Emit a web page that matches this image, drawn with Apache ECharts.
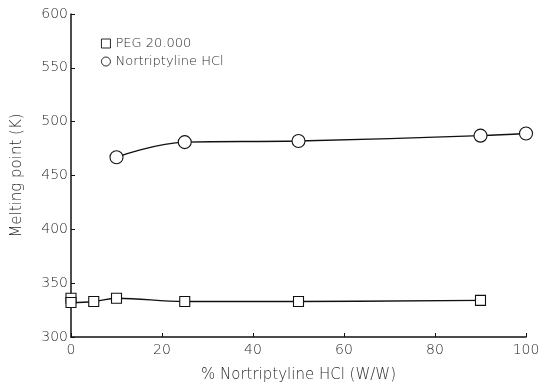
<!DOCTYPE html>
<html>
<head>
<meta charset="utf-8">
<script src="https://cdn.jsdelivr.net/npm/echarts@6/dist/echarts.min.js"></script>
<style>
  html, body { margin: 0; padding: 0; background: #fff; }
  #main { width: 549px; height: 382px; }
</style>
</head>
<body>
<div id="main"></div>
<script>
// 数据
var pegX = [0, 0, 5, 10, 25, 50, 90]
var pegY = [336, 332, 333, 336, 333, 333, 334]
var norX = [10, 25, 50, 90, 100]
var norY = [467, 481, 482, 487, 489]
var xTicks = [0, 20, 40, 60, 80, 100]
var yTicks = [300, 350, 400, 450, 500, 550, 600]

function pairs(xs, ys) {
  return xs.map(function (x, i) { return [x, ys[i]] })
}

var chart = echarts.init(document.getElementById('main'))
var font = 'DejaVu Sans'
var txt = '#2a2a2a'
var option = {
  animation: false,
  backgroundColor: '#fff',
  grid: { left: 71, right: 23, top: 14, bottom: 45, outerBoundsMode: 'none' },
  legend: {
    orient: 'vertical',
    left: 96,
    top: 32,
    itemGap: 5,
    itemWidth: 9,
    itemHeight: 9,
    itemStyle: { borderWidth: 0.9 },
    textStyle: { fontFamily: font, fontWeight: 200, fontSize: 13, color: txt },
    data: [
      { name: 'PEG 20.000', icon: 'rect' },
      { name: 'Nortriptyline HCl', icon: 'circle' }
    ]
  },
  xAxis: {
    type: 'value',
    min: 0, max: 100, interval: 20,
    name: '% Nortriptyline HCl (W/W)',
    nameLocation: 'middle',
    nameGap: 31,
    nameTextStyle: { fontFamily: font, fontWeight: 200, fontSize: 15, color: txt },
    axisLine: { lineStyle: { color: '#111', width: 1.5 } },
    axisTick: { inside: true, length: 4, lineStyle: { color: '#111' } },
    axisLabel: { fontFamily: font, fontWeight: 200, fontSize: 14, color: txt, margin: 6 },
    splitLine: { show: false }
  },
  yAxis: {
    type: 'value',
    min: 300, max: 600, interval: 50,
    name: 'Melting point (K)',
    nameLocation: 'middle',
    nameGap: 46,
    nameTextStyle: { fontFamily: font, fontWeight: 200, fontSize: 15, color: txt },
    axisLine: { show: true, lineStyle: { color: '#111', width: 1.5 } },
    axisTick: { show: true, inside: true, length: 4, lineStyle: { color: '#111' } },
    axisLabel: { fontFamily: font, fontWeight: 200, fontSize: 14, color: txt, margin: 3 },
    splitLine: { show: false }
  },
  series: [
    {
      name: 'PEG 20.000',
      type: 'line',
      smooth: 0.4,
      symbol: 'rect',
      symbolSize: 10,
      lineStyle: { color: '#111', width: 1.4 },
      itemStyle: { color: '#fff', borderColor: '#111', borderWidth: 1.1 },
      data: pairs(pegX, pegY)
    },
    {
      name: 'Nortriptyline HCl',
      type: 'line',
      smooth: 0.4,
      symbol: 'circle',
      symbolSize: 13,
      lineStyle: { color: '#111', width: 1.4 },
      itemStyle: { color: '#fff', borderColor: '#111', borderWidth: 1.1 },
      data: pairs(norX, norY)
    }
  ]
}
chart.setOption(option)
</script>
</body>
</html>
